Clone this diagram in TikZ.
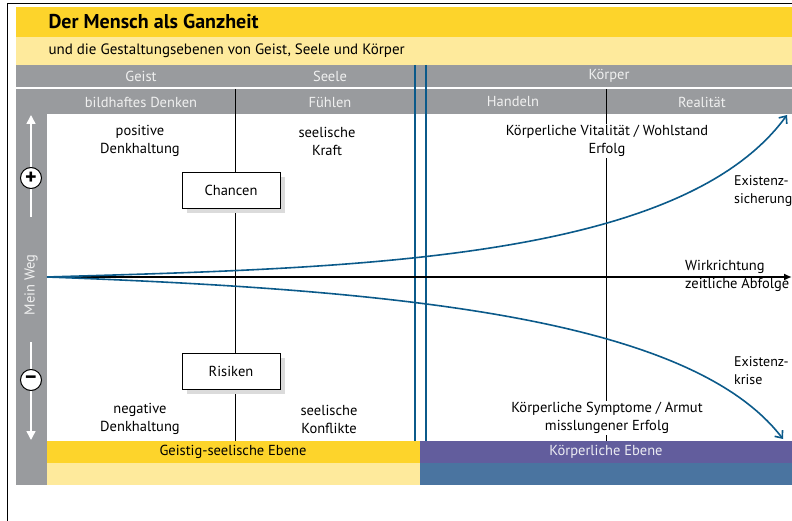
\documentclass[tikz,border=0pt]{standalone}
\usepackage{fontspec}
\setmainfont{PT Sans}
\usetikzlibrary{arrows.meta,shadows}
\definecolor{gold}{HTML}{FDD42B}
\definecolor{pale}{HTML}{FEEA9C}
\definecolor{band}{HTML}{999B9E}
\definecolor{deepblue}{HTML}{0B5A8A}
\definecolor{plum}{HTML}{625D9D}
\definecolor{steel}{HTML}{4A74A0}
\begin{document}
\begin{tikzpicture}[x=1pt,y=-1pt,
    every node/.style={font=\fontsize{14.5}{18}\selectfont},
    head/.style={text=white!94!black},
    txt/.style={align=center, fill=white, inner sep=1pt},
    side/.style={align=left, inner sep=0pt, anchor=west},
    box/.style={draw, fill=white, minimum width=98pt, minimum height=36pt,
      general shadow={shadow xshift=5pt, shadow yshift=-5pt, fill=black!14}},
    way/.style={draw=deepblue, line width=1.6pt, -{Straight Barb[length=6pt,width=10pt]}},
    sign/.style={circle, draw, fill=white, line width=1pt, minimum size=21pt, inner sep=0pt,
      font=\bfseries\fontsize{22}{22}\selectfont}]
            \useasboundingbox (0,0) rectangle (792,521);
            % bands
            \fill[gold] (16,7) rectangle (792,37);
            \fill[pale] (16,37) rectangle (792,65);
            \fill[band] (16,65) rectangle (792,87);
            \fill[band] (16,89) rectangle (792,114);
            \fill[band] (16,89) rectangle (47,485);
            \fill[gold] (47,441) rectangle (420,463);
            \fill[pale] (47,463) rectangle (420,485);
            \fill[plum] (420,441) rectangle (792,463);
            \fill[steel] (420,463) rectangle (792,485);
            \draw (7,521) -- (7,3) -- (792,3);

            \node[anchor=west, font=\bfseries\fontsize{20}{22}\selectfont] (T) at (45,22) {Der Mensch als Ganzheit};
            \node[anchor=west, font=\fontsize{15}{18}\selectfont] (S) at (45,51) {und die Gestaltungsebenen von Geist, Seele und Körper};

            \node[head] (G) at (141,76) {Geist};
            \node[head] (Se) at (330,76) {Seele};
            \node[head] (K) at (609,76) {Körper};
            \node[head] (BD) at (141,102) {bildhaftes Denken};
            \node[head] (F) at (330,102) {Fühlen};
            \node[head] (H) at (513,102) {Handeln};
            \node[head] (R) at (702,102) {Realität};

            \coordinate (A1) at (235,89);
            \coordinate (A2) at (235,441);
            \coordinate (B1) at (606,89);
            \coordinate (B2) at (606,441);
            \coordinate (L1) at (415,65);
            \coordinate (L2) at (415,441);
            \coordinate (M1) at (426,65);
            \coordinate (M2) at (426,441);
            \draw (A1) -- (A2);
            \draw (B1) -- (B2);
            \draw[deepblue, line width=2.2pt] (L1) -- (L2);
            \draw[deepblue, line width=2.2pt] (M1) -- (M2);

            \coordinate (O) at (47,277);
            \coordinate (W) at (792,277);
            \coordinate (E1) at (787,115);
            \coordinate (E2) at (783,439);
            \draw[line width=1.8pt, -{Latex[length=8pt,width=7pt]}] (O) -- (W);
            \draw[way] (O) .. controls (350,268) and (680,262) .. (E1);
            \draw[way] (O) .. controls (400,290) and (690,318) .. (E2);

            \node[txt] (PD) at (140,141) {positive\\Denkhaltung};
            \node[txt] (SK) at (327,141) {seelische\\Kraft};
            \node[txt] (KV) at (607,141) {Körperliche Vitalität / Wohlstand\\Erfolg};
            \node[side, font=\fontsize{14}{18}\selectfont] (ES) at (734,191) {Existenz-\\sicherung};
            \node[side] (WR) at (685,276) {Wirkrichtung\\zeitliche Abfolge};
            \node[side, font=\fontsize{14}{18}\selectfont] (EK) at (734,371) {Existenz-\\krise};
            \node[txt] (ND) at (140,419) {negative\\Denkhaltung};
            \node[txt] (SF) at (329,419) {seelische\\Konflikte};
            \node[txt] (KS) at (607,418) {Körperliche Symptome / Armut\\misslungener Erfolg};

            \node[box] (C) at (231,190) {Chancen};
            \node[box] (Ri) at (231,371) {Risiken};

            \node (GE) at (233,452) {Geistig-seelische Ebene};
            \node[text=white!88!plum] (KE) at (606,452) {Körperliche Ebene};

            % Mein Weg
            \node[head, rotate=90] (MW) at (31,285) {Mein Weg};
            \coordinate (U0) at (31,217);
            \coordinate (U1) at (31,115);
            \coordinate (D0) at (31,342);
            \coordinate (D1) at (31,440);
            \draw[white, line width=1.5pt, -{Triangle[length=9pt,width=9pt]}] (U0) -- (U1);
            \draw[white, line width=1.5pt, -{Triangle[length=9pt,width=9pt]}] (D0) -- (D1);
            \node[sign] (P) at (31,178) {+};
            \node[sign] (N) at (31,380) {–};
\end{tikzpicture}
\end{document}
